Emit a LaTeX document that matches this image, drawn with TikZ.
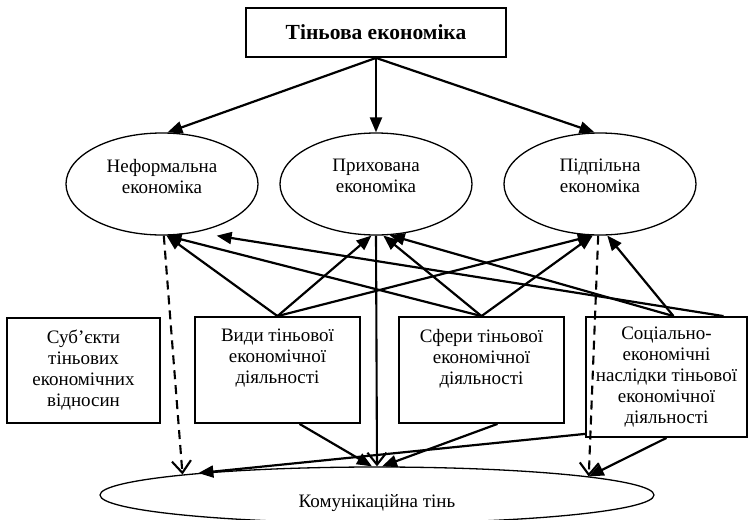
\documentclass[tikz,border=0pt]{standalone}
\usepackage{fontspec}
\setmainfont{Liberation Serif}
\usetikzlibrary{shapes.geometric,arrows.meta}

\begin{document}
\begin{tikzpicture}[x=1pt,y=-1pt,
    every node/.style={font=\fontsize{19}{21}\selectfont},
    box/.style={draw, line width=1.8pt, inner sep=0pt},
    oval/.style={draw, ellipse, line width=1.3pt, inner sep=0pt},
    txt/.style={align=center, inner sep=0pt},
    arr/.style={-{Triangle[length=15pt,width=12pt]}, line width=2.2pt},
    barb/.style={-{Straight Barb[length=12pt,width=19pt]}, line width=2.1pt}]

  \useasboundingbox (0,0) rectangle (748,520);

  % top and the three kinds of economy
  \node[box, minimum width=260pt, minimum height=49pt,
        font=\fontsize{21.5}{25}\selectfont\bfseries] (te) at (376,32.5) {Тіньова економіка};

  \begin{scope}[every node/.append style={oval, minimum width=192pt, minimum height=102pt}]
    \node (ne)  at (162,184) {};
    \node (pr)  at (376,184) {};
    \node (pid) at (600,184) {};
  \end{scope}
  \node[txt] (netext)  at ([yshift=8pt]ne.center)  {Неформальна\\економіка};
  \node[txt] (prtext)  at ([yshift=8pt]pr.center)  {Прихована\\економіка};
  \node[txt] (pidtext) at ([yshift=8pt]pid.center) {Підпільна\\економіка};

  % lower boxes
  \node[box, align=center, minimum width=153pt, minimum height=105pt] (sub) at (83.5,370.5)
    {Суб’єкти\\тіньових\\економічних\\відносин};
  \node[box, minimum width=165pt, minimum height=106pt] (vyd) at (277.5,370) {};
  \node[txt, anchor=north] (vydtext) at ([yshift=-13pt]vyd.north) {Види тіньової\\економічної\\діяльності};
  \node[box, minimum width=165pt, minimum height=106pt] (sfe) at (481.5,370) {};
  \node[txt, anchor=north] (sfetext) at ([yshift=-13pt]sfe.north) {Сфери тіньової\\економічної\\діяльності};
  \node[box, align=center, minimum width=161pt, minimum height=120pt] (nas) at (666.5,377)
    {Соціально-\\економічні\\наслідки тіньової\\економічної\\діяльності};

  \node[oval, minimum width=554pt, minimum height=56pt] (kom) at (377,495) {};
  \node[txt] (komtext) at (377,503) {Комунікаційна тінь};

  \begin{scope}[every edge/.style={draw, arr}]
    \path (te.south) edge (ne.84);
    \path (te.south) edge (pr.north);
    \path (te.south) edge (pid.96);

    \path (vyd.north) edge (ne.275);
    \path (vyd.north) edge (pr.265);
    \path (vyd.north) edge (pid.262);
    \path (sfe.north) edge (ne.275);
    \path (sfe.north) edge (pr.278);
    \path (sfe.north) edge (pid.262);
    \path ([xshift=7pt]nas.north) edge (pid.278);
    \path ([xshift=7pt]nas.north) edge (pr.285);
    \path ([xshift=57pt]nas.north) edge[shorten >=21pt] (ne.305);

    \path ([xshift=22pt]vyd.south) edge (kom.100);
    \path ([xshift=16pt]sfe.south) edge (kom.80);
    \path ([yshift=4pt]nas.south west) edge (kom.173.5);
    \path (nas.south) edge (kom.5.3);
  \end{scope}

  \begin{scope}[every edge/.style={draw, barb}]
    \path (ne.272) edge[dash pattern=on 9pt off 6pt] (kom.174.4);
    \path (pid.268) edge[dash pattern=on 9pt off 6pt] (kom.5.8);
    \path (pr.south) edge (kom.north);
  \end{scope}

\end{tikzpicture}
\end{document}
